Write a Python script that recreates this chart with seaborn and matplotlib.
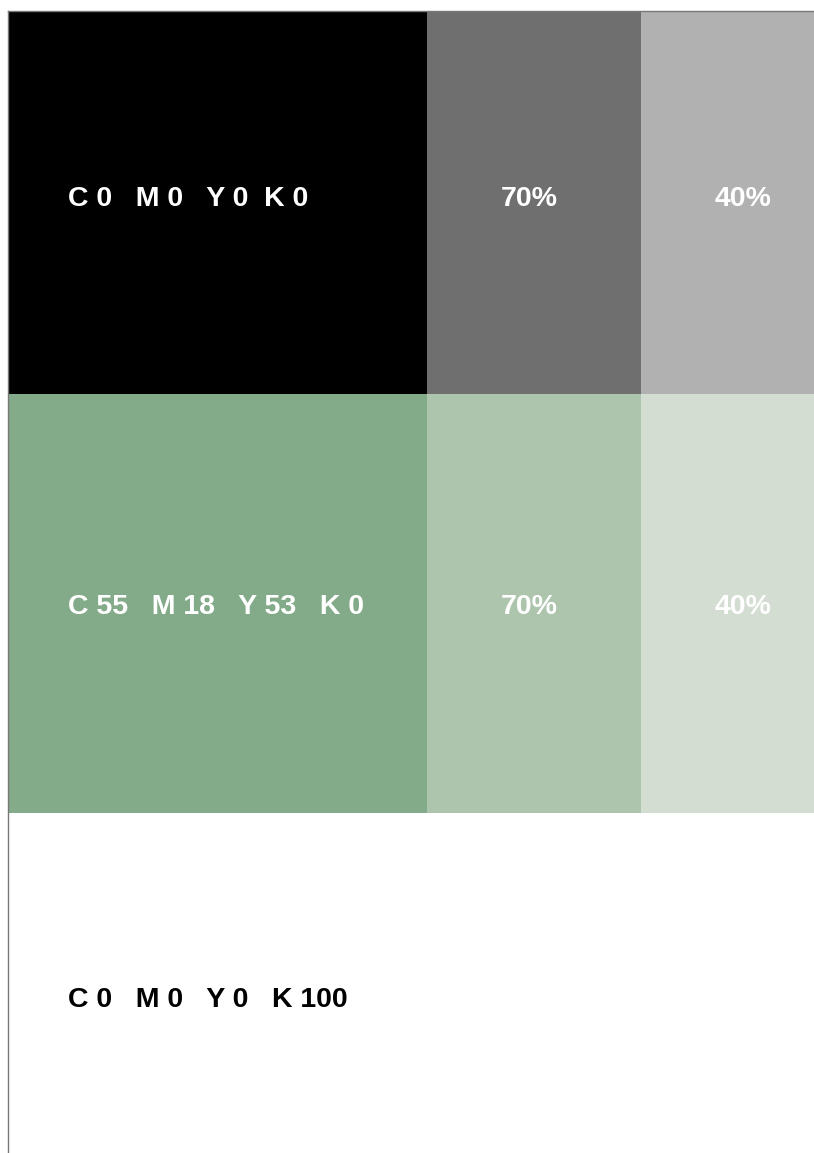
"""Colour swatch sheet: base colours with 70% / 40% tints."""
import matplotlib
matplotlib.use("Agg")
import matplotlib.pyplot as plt
import seaborn as sns

# swatch data
rows = ["black", "green", "white"]
row_labels = ["C 0   M 0   Y 0  K 0", "C 55   M 18   Y 53   K 0", "C 0   M 0   Y 0   K 100"]
tints = ["100%", "70%", "40%"]
swatch_colors = [
    ["#000000", "#6f6f6f", "#b1b1b1"],
    ["#84ab89", "#adc5ad", "#d3ddd1"],
    ["#ffffff", "#ffffff", "#ffffff"],
]
label_colors = ["white", "white", "#000000"]
tint_label_rows = ["black", "green"]

# layout in pixel-like units
col_w = [419, 214, 173]
row_h = [383, 419, 340]

sns.set_theme(style="white")
plt.rcParams["font.family"] = ["Liberation Sans", "DejaVu Sans"]

fig = plt.figure(figsize=(8.14, 11.53), dpi=100)
ax = fig.add_axes([8 / 814, 0, 806 / 814, 1142 / 1153])

col_left = [sum(col_w[:i]) for i in range(len(col_w))]
row_top = [sum(row_h[:i]) for i in range(len(row_h))]

for r, name in enumerate(rows):
    for c, tint in enumerate(tints):
        ax.bar(col_left[c], row_h[r], width=col_w[c], bottom=row_top[r],
               align="edge", color=swatch_colors[r][c], linewidth=0)

label_dy = [-4, 4, 17]
for r, name in enumerate(rows):
    yc = row_top[r] + row_h[r] / 2 + label_dy[r]
    ax.text(60, yc, row_labels[r], color=label_colors[r], fontsize=20.5,
            fontweight="bold", ha="left", va="center")
    if name in tint_label_rows:
        for c in (1, 2):
            ax.text(col_left[c] + 74, yc, tints[c], color="white",
                    fontsize=20.5, fontweight="bold", ha="left", va="center")

ax.set_xlim(0, sum(col_w))
ax.set_ylim(sum(row_h), 0)
ax.set_xticks([])
ax.set_yticks([])
for side in ("right", "bottom"):
    ax.spines[side].set_visible(False)
for side in ("left", "top"):
    ax.spines[side].set_color("#777777")
    ax.spines[side].set_linewidth(1)

fig.savefig("out.png", dpi=100)
plt.close(fig)
